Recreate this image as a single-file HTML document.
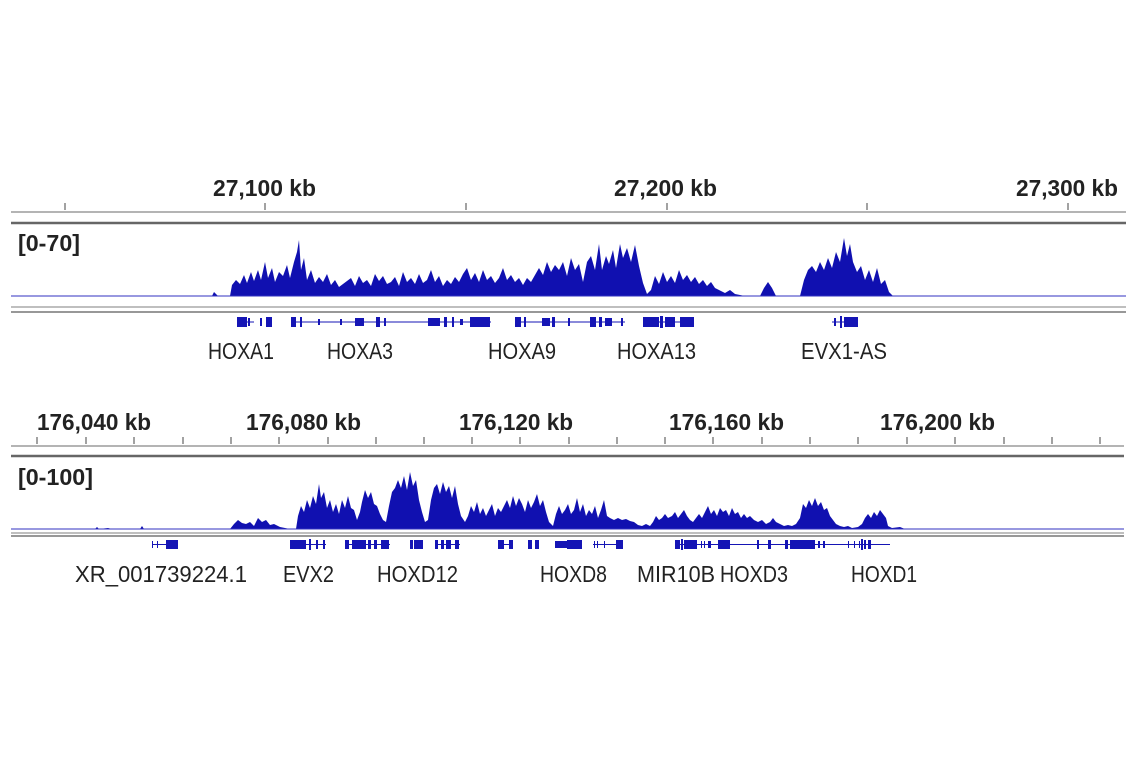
<!DOCTYPE html>
<html><head><meta charset="utf-8"><style>
html,body{margin:0;padding:0;background:#fff;width:1141px;height:768px;overflow:hidden}
svg{display:block}
.r{font-family:"Liberation Sans",sans-serif;font-weight:bold;font-size:23px;fill:#222}
.g{font-family:"Liberation Sans",sans-serif;font-size:23px;fill:#222}
.s{font-family:"Liberation Sans",sans-serif;font-weight:bold;font-size:23px;fill:#222}
</style></head><body>
<svg width="1141" height="768" viewBox="0 0 1141 768">
<!-- TOP PANEL -->
<text class="r" x="213" y="196" textLength="103" lengthAdjust="spacingAndGlyphs">27,100 kb</text>
<text class="r" x="614" y="196" textLength="103" lengthAdjust="spacingAndGlyphs">27,200 kb</text>
<text class="r" x="1016" y="196" textLength="102" lengthAdjust="spacingAndGlyphs">27,300 kb</text>
<g stroke="#444" stroke-width="1">
<line x1="65" y1="203" x2="65" y2="210"/><line x1="265" y1="203" x2="265" y2="210"/><line x1="466" y1="203" x2="466" y2="210"/><line x1="667" y1="203" x2="667" y2="210"/><line x1="867" y1="203" x2="867" y2="210"/><line x1="1068" y1="203" x2="1068" y2="210"/>
</g>
<line x1="11" y1="212" x2="1126" y2="212" stroke="#888" stroke-width="1.2"/>
<line x1="11" y1="223" x2="1126" y2="223" stroke="#666" stroke-width="2.5"/>
<text class="s" x="18" y="251" textLength="62" lengthAdjust="spacingAndGlyphs">[0-70]</text>
<path fill="#1010b0" d="M11,296 L212,296 L214,292 L218,296 L230,296 L232,285 L236,280 L240,284 L244,275 L247,283 L251,272 L254,281 L258,270 L261,280 L265,262 L268,278 L272,268 L275,282 L279,272 L283,276 L287,265 L290,278 L294,262 L297,252 L299,240 L301,270 L304,258 L307,280 L311,270 L315,283 L319,277 L323,282 L327,274 L331,285 L335,280 L339,287 L343,284 L347,281 L351,278 L355,286 L359,276 L363,283 L367,280 L371,286 L375,274 L379,281 L383,276 L387,284 L391,282 L395,277 L399,286 L403,272 L407,282 L411,278 L415,284 L419,274 L423,283 L427,280 L431,270 L435,282 L439,276 L443,286 L447,280 L451,284 L455,277 L459,282 L463,274 L467,268 L471,280 L475,273 L479,282 L483,270 L487,280 L491,276 L495,283 L499,278 L503,268 L507,280 L511,275 L515,282 L519,278 L523,285 L527,278 L531,282 L535,275 L539,268 L543,275 L547,262 L551,272 L555,265 L559,270 L563,262 L567,276 L571,258 L575,270 L579,264 L583,282 L587,262 L591,256 L595,270 L599,244 L602,270 L606,256 L609,264 L613,250 L616,268 L620,244 L623,258 L627,248 L631,262 L635,245 L639,266 L643,283 L647,294 L651,290 L655,276 L659,284 L663,272 L667,282 L671,276 L675,283 L679,270 L683,280 L687,275 L691,282 L695,277 L699,284 L703,280 L707,286 L711,282 L715,288 L719,290 L725,293 L730,290 L735,294 L745,296 L760,296 L764,288 L768,282 L772,288 L776,296 L800,296 L804,280 L808,270 L812,266 L816,272 L820,262 L824,270 L828,258 L832,268 L836,252 L840,262 L844,238 L847,256 L850,244 L853,262 L857,272 L861,266 L865,280 L869,270 L873,282 L877,268 L881,284 L885,280 L889,292 L893,296 L1126,296 Z"/>
<line x1="11" y1="296" x2="1126" y2="296" stroke="#3030c0" stroke-width="1"/>
<line x1="11" y1="307" x2="1126" y2="307" stroke="#999" stroke-width="1.2"/>
<line x1="11" y1="312" x2="1126" y2="312" stroke="#777" stroke-width="1.5"/>
<g fill="#1515b5">
<rect x="237" y="321.5" width="17" height="1"/><rect x="237" y="317" width="10" height="10"/><rect x="248" y="318" width="2" height="8"/><rect x="260" y="318" width="2" height="8"/><rect x="266" y="317" width="6" height="10"/>
<rect x="291" y="321.5" width="200" height="1"/><rect x="291" y="317" width="5" height="10"/><rect x="300" y="317" width="2" height="10"/><rect x="318" y="319" width="2" height="6"/><rect x="340" y="319" width="2" height="6"/><rect x="355" y="318" width="9" height="8"/><rect x="376" y="317" width="4" height="10"/><rect x="384" y="318" width="2" height="8"/><rect x="428" y="318" width="12" height="8"/><rect x="444" y="317" width="3" height="10"/><rect x="452" y="317" width="2" height="10"/><rect x="460" y="319" width="3" height="6"/><rect x="470" y="317" width="20" height="10"/>
<rect x="515" y="321.5" width="110" height="1"/><rect x="515" y="317" width="6" height="10"/><rect x="524" y="317" width="2" height="10"/><rect x="542" y="318" width="8" height="8"/><rect x="552" y="317" width="3" height="10"/><rect x="568" y="318" width="2" height="8"/><rect x="590" y="317" width="6" height="10"/><rect x="599" y="317" width="3" height="10"/><rect x="605" y="318" width="7" height="8"/><rect x="621" y="318" width="2" height="8"/>
<rect x="643" y="321.5" width="50" height="1"/><rect x="643" y="317" width="16" height="10"/><rect x="660" y="316" width="3" height="12"/><rect x="665" y="317" width="10" height="10"/><rect x="680" y="317" width="14" height="10"/>
<rect x="832" y="321.5" width="26" height="1"/><rect x="834" y="318" width="2" height="8"/><rect x="840" y="316" width="2" height="12"/><rect x="844" y="317" width="14" height="10"/>
</g>
<text class="g" x="208" y="359" textLength="66" lengthAdjust="spacingAndGlyphs">HOXA1</text>
<text class="g" x="327" y="359" textLength="66" lengthAdjust="spacingAndGlyphs">HOXA3</text>
<text class="g" x="488" y="359" textLength="68" lengthAdjust="spacingAndGlyphs">HOXA9</text>
<text class="g" x="617" y="359" textLength="79" lengthAdjust="spacingAndGlyphs">HOXA13</text>
<text class="g" x="801" y="359" textLength="86" lengthAdjust="spacingAndGlyphs">EVX1-AS</text>

<!-- BOTTOM PANEL -->
<text class="r" x="37" y="430" textLength="114" lengthAdjust="spacingAndGlyphs">176,040 kb</text>
<text class="r" x="246" y="430" textLength="115" lengthAdjust="spacingAndGlyphs">176,080 kb</text>
<text class="r" x="459" y="430" textLength="114" lengthAdjust="spacingAndGlyphs">176,120 kb</text>
<text class="r" x="669" y="430" textLength="115" lengthAdjust="spacingAndGlyphs">176,160 kb</text>
<text class="r" x="880" y="430" textLength="115" lengthAdjust="spacingAndGlyphs">176,200 kb</text>
<g stroke="#444" stroke-width="1">
<line x1="37" y1="437" x2="37" y2="444"/><line x1="86" y1="437" x2="86" y2="444"/><line x1="134" y1="437" x2="134" y2="444"/><line x1="183" y1="437" x2="183" y2="444"/><line x1="231" y1="437" x2="231" y2="444"/><line x1="279" y1="437" x2="279" y2="444"/><line x1="328" y1="437" x2="328" y2="444"/><line x1="376" y1="437" x2="376" y2="444"/><line x1="424" y1="437" x2="424" y2="444"/><line x1="472" y1="437" x2="472" y2="444"/><line x1="520" y1="437" x2="520" y2="444"/><line x1="569" y1="437" x2="569" y2="444"/><line x1="617" y1="437" x2="617" y2="444"/><line x1="665" y1="437" x2="665" y2="444"/><line x1="713" y1="437" x2="713" y2="444"/><line x1="762" y1="437" x2="762" y2="444"/><line x1="810" y1="437" x2="810" y2="444"/><line x1="858" y1="437" x2="858" y2="444"/><line x1="907" y1="437" x2="907" y2="444"/><line x1="955" y1="437" x2="955" y2="444"/><line x1="1004" y1="437" x2="1004" y2="444"/><line x1="1052" y1="437" x2="1052" y2="444"/><line x1="1100" y1="437" x2="1100" y2="444"/>
</g>
<line x1="11" y1="446" x2="1124" y2="446" stroke="#888" stroke-width="1.2"/>
<line x1="11" y1="456" x2="1124" y2="456" stroke="#666" stroke-width="2.5"/>
<text class="s" x="18" y="485" textLength="75" lengthAdjust="spacingAndGlyphs">[0-100]</text>
<path fill="#1010b0" d="M11,529 L95,529 L97,527 L99,529 L108,528 L112,529 L140,529 L142,526 L144,529 L230,529 L234,524 L238,520 L242,523 L246,524 L250,522 L254,526 L258,518 L262,522 L266,520 L270,525 L274,524 L280,527 L290,529 L296,529 L298,516 L301,506 L304,512 L307,500 L310,508 L313,496 L316,504 L319,484 L321,498 L324,492 L327,508 L330,500 L333,512 L336,504 L339,514 L342,500 L345,508 L348,496 L351,508 L354,510 L357,520 L360,512 L362,502 L365,490 L368,498 L371,492 L374,504 L377,506 L380,514 L383,520 L386,522 L389,506 L392,492 L395,488 L398,480 L401,488 L404,476 L407,490 L410,472 L413,486 L416,480 L419,500 L422,512 L425,522 L428,520 L431,500 L434,488 L437,484 L440,494 L443,482 L446,492 L449,486 L452,498 L455,486 L458,504 L461,516 L465,522 L468,516 L471,506 L474,512 L477,502 L480,514 L483,508 L486,516 L489,510 L492,504 L495,516 L498,508 L501,512 L504,506 L507,500 L510,508 L513,496 L516,506 L519,498 L522,504 L525,512 L528,500 L531,508 L534,502 L537,494 L540,506 L543,500 L546,512 L549,522 L553,526 L556,514 L559,506 L562,514 L565,510 L568,504 L571,514 L574,510 L577,498 L580,512 L583,504 L586,516 L589,510 L592,514 L595,506 L598,518 L601,510 L604,500 L607,516 L610,518 L614,520 L618,518 L622,520 L626,519 L630,521 L634,522 L638,525 L642,526 L646,524 L650,526 L653,522 L656,516 L659,520 L662,518 L665,514 L668,518 L672,516 L675,512 L678,518 L681,514 L684,510 L687,516 L690,520 L693,522 L696,518 L699,514 L702,518 L705,512 L708,506 L711,514 L714,510 L717,516 L720,508 L723,512 L726,510 L729,516 L732,508 L735,514 L738,512 L741,518 L744,514 L747,518 L750,516 L754,520 L758,522 L762,520 L766,524 L770,522 L773,518 L776,522 L780,524 L784,526 L788,525 L792,526 L796,524 L800,518 L803,504 L806,508 L809,500 L812,506 L815,498 L818,506 L821,502 L824,510 L827,508 L830,516 L833,520 L836,524 L840,526 L844,527 L848,526 L852,528 L858,527 L862,524 L865,518 L868,514 L871,518 L874,512 L877,516 L880,510 L883,514 L886,518 L888,526 L892,528 L900,527 L905,529 L1126,529 Z"/>
<line x1="11" y1="529" x2="1124" y2="529" stroke="#3030c0" stroke-width="1"/>
<line x1="11" y1="533" x2="1124" y2="533" stroke="#999" stroke-width="1.2"/>
<line x1="11" y1="536" x2="1124" y2="536" stroke="#777" stroke-width="1.5"/>
<g fill="#1515b5">
<rect x="152" y="544" width="26" height="1"/><rect x="152" y="541" width="1" height="7"/><rect x="157" y="541" width="1" height="7"/><rect x="166" y="540" width="12" height="9"/>
<rect x="290" y="544" width="36" height="1"/><rect x="290" y="540" width="16" height="9"/><rect x="309" y="539" width="2" height="11"/><rect x="316" y="540" width="2" height="9"/><rect x="323" y="540" width="2" height="9"/>
<rect x="345" y="544" width="45" height="1"/><rect x="345" y="540" width="4" height="9"/><rect x="352" y="540" width="14" height="9"/><rect x="368" y="540" width="3" height="9"/><rect x="374" y="540" width="3" height="9"/><rect x="381" y="540" width="8" height="9"/>
<rect x="410" y="540" width="3" height="9"/><rect x="414" y="540" width="9" height="9"/><rect x="435" y="544" width="25" height="1"/><rect x="435" y="540" width="3" height="9"/><rect x="441" y="540" width="3" height="9"/><rect x="446" y="540" width="5" height="9"/><rect x="455" y="540" width="4" height="9"/>
<rect x="498" y="544" width="15" height="1"/><rect x="498" y="540" width="6" height="9"/><rect x="509" y="540" width="4" height="9"/>
<rect x="528" y="540" width="4" height="9"/><rect x="535" y="540" width="4" height="9"/>
<rect x="555" y="541" width="12" height="7"/><rect x="567" y="540" width="15" height="9"/>
<rect x="593" y="544" width="30" height="1"/><rect x="594" y="541" width="1" height="7"/><rect x="597" y="541" width="1" height="7"/><rect x="604" y="541" width="1" height="7"/><rect x="616" y="540" width="7" height="9"/>
<rect x="675" y="544" width="215" height="1"/><rect x="675" y="540" width="5" height="9"/><rect x="681" y="539" width="2" height="11"/><rect x="684" y="540" width="13" height="9"/><rect x="701" y="541" width="1" height="7"/><rect x="704" y="541" width="1" height="7"/><rect x="708" y="541" width="3" height="7"/><rect x="718" y="540" width="12" height="9"/><rect x="757" y="540" width="2" height="9"/><rect x="768" y="540" width="3" height="9"/><rect x="785" y="540" width="3" height="9"/><rect x="790" y="540" width="25" height="9"/><rect x="818" y="541" width="2" height="7"/><rect x="823" y="541" width="2" height="7"/><rect x="848" y="541" width="1" height="7"/><rect x="854" y="541" width="1" height="7"/><rect x="859" y="541" width="1" height="7"/><rect x="861" y="539" width="2" height="11"/><rect x="864" y="540" width="2" height="9"/><rect x="868" y="540" width="3" height="9"/>
</g>
<text class="g" x="75" y="582" textLength="172" lengthAdjust="spacingAndGlyphs">XR_001739224.1</text>
<text class="g" x="283" y="582" textLength="51" lengthAdjust="spacingAndGlyphs">EVX2</text>
<text class="g" x="377" y="582" textLength="81" lengthAdjust="spacingAndGlyphs">HOXD12</text>
<text class="g" x="540" y="582" textLength="67" lengthAdjust="spacingAndGlyphs">HOXD8</text>
<text class="g" x="637" y="582" textLength="78" lengthAdjust="spacingAndGlyphs">MIR10B</text>
<text class="g" x="720" y="582" textLength="68" lengthAdjust="spacingAndGlyphs">HOXD3</text>
<text class="g" x="851" y="582" textLength="66" lengthAdjust="spacingAndGlyphs">HOXD1</text>
</svg>
</body></html>
